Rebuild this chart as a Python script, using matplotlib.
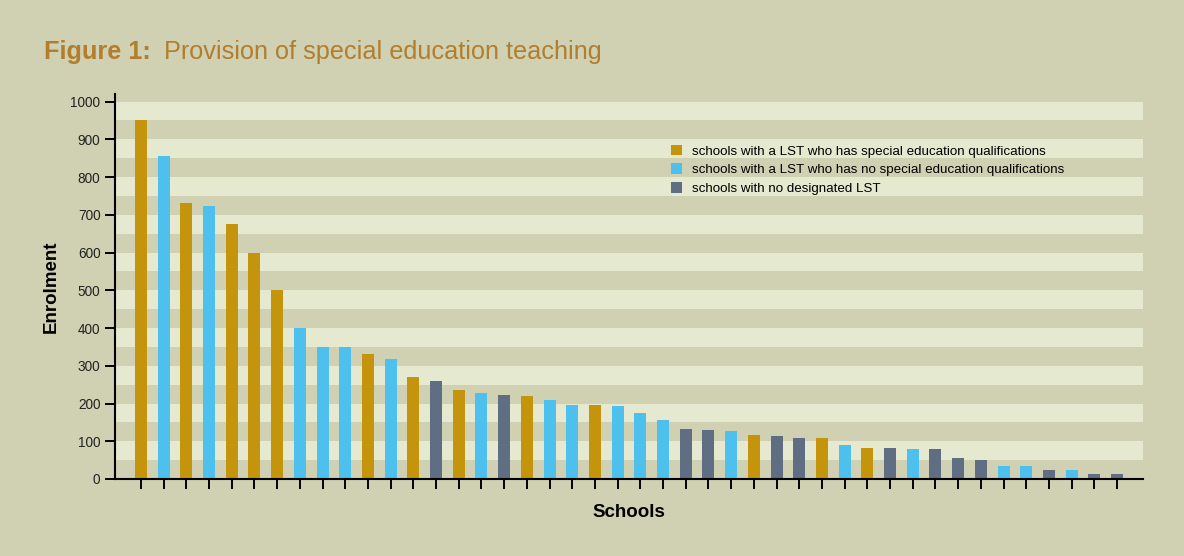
import matplotlib.pyplot as plt
from matplotlib.patches import Patch

# Data
enrolment = [950, 855, 730, 724, 675, 600, 500, 400, 350, 350,
             332, 318, 270, 260, 236, 228, 223, 220, 210, 196,
             196, 194, 175, 157, 133, 130, 127, 117, 114, 109,
             109, 90, 82, 82, 80, 80, 56, 50, 34, 34,
             24, 24, 13, 13]
# q = LST with qualifications, n = LST without, x = no designated LST
group = ['q', 'n', 'q', 'n', 'q', 'q', 'q', 'n', 'n', 'n',
         'q', 'n', 'q', 'x', 'q', 'n', 'x', 'q', 'n', 'n',
         'q', 'n', 'n', 'n', 'x', 'x', 'n', 'q', 'x', 'x',
         'q', 'n', 'q', 'x', 'n', 'x', 'x', 'x', 'n', 'n',
         'x', 'n', 'x', 'x']
legend_labels = {
    'q': 'schools with a LST who has special education qualifications',
    'n': 'schools with a LST who has no special education qualifications',
    'x': 'schools with no designated LST',
}
colours = {'q': '#c4940c', 'n': '#4dc0ee', 'x': '#5f6e82'}
yticks = list(range(0, 1001, 100))

bg = '#cfd1b2'
band = '#e4e9cf'
title_col = '#b27d2d'

plt.rcParams['font.family'] = ['Liberation Sans', 'DejaVu Sans']

fig = plt.figure(figsize=(11.84, 5.56), dpi=100, facecolor=bg)
ax = fig.add_axes([0.0971, 0.1385, 0.8683, 0.6924])
ax.set_facecolor(bg)

# alternating stripes
for lo in range(50, 1000, 100):
    ax.axhspan(lo, lo + 50, color=band, zorder=0, lw=0)

x = list(range(len(enrolment)))
ax.bar(x, enrolment, width=0.53, color=[colours[g] for g in group], zorder=2)

ax.set_xlim(-1.145, len(enrolment) - 1 + 1.145)
ax.set_ylim(0, 1020)
ax.set_xticks(x)
ax.set_xticklabels([])
ax.set_yticks(yticks)
ax.tick_params(axis='x', direction='out', length=7.5, width=1.4, color='black')
ax.tick_params(axis='y', direction='out', length=7, width=1.4, color='black',
               labelsize=9.8, pad=3.5, labelcolor='#222222')
for s in ['top', 'right']:
    ax.spines[s].set_visible(False)
for s in ['left', 'bottom']:
    ax.spines[s].set_linewidth(1.5)

ax.set_ylabel('Enrolment', fontsize=13.5, fontweight='bold', labelpad=8)
ax.set_xlabel('Schools', fontsize=13.5, fontweight='bold', labelpad=7)

handles = [Patch(facecolor=colours[k], edgecolor='none', label=legend_labels[k])
           for k in ['q', 'n', 'x']]
ax.legend(handles=handles, loc='upper left', bbox_to_anchor=(0.541, 0.868),
          frameon=False, fontsize=9.6, handlelength=0.85, handleheight=0.85,
          handletextpad=0.75, labelspacing=0.42, borderpad=0, borderaxespad=0)

fig.text(44 / 1184, 1 - 59 / 556, 'Figure 1:', color=title_col, fontsize=18.2,
         fontweight='heavy', va='baseline')
fig.text(164 / 1184, 1 - 59 / 556, 'Provision of special education teaching',
         color=title_col, fontsize=18.2, va='baseline')

fig.savefig('out.png', dpi=100, facecolor=bg)
